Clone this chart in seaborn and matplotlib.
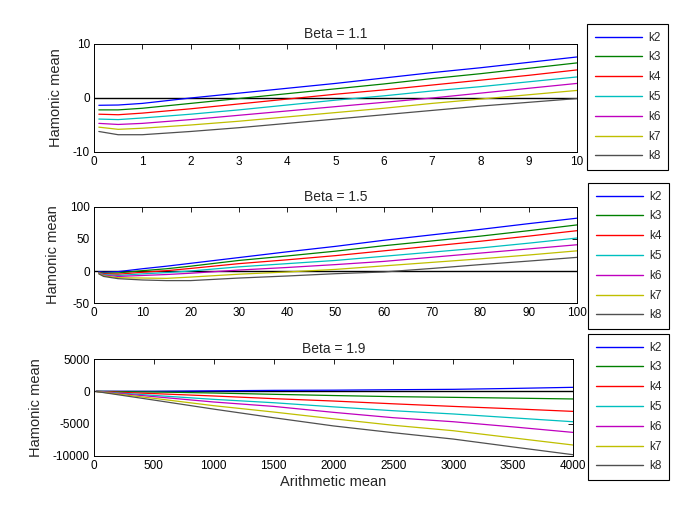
import matplotlib
matplotlib.use("Agg")
import matplotlib.pyplot as plt
import pandas as pd
import seaborn as sns


LABELS = ["k2", "k3", "k4", "k5", "k6", "k7", "k8"]
COLORS = ["#0000ff", "#008000", "#ff0000", "#00bfbf", "#bf00bf", "#bfbf00", "#505050"]

# Beta = 1.1
B11_X = [0.1, 0.5, 1, 2, 3, 4, 5, 6, 7, 8, 9, 10]
B11_K2 = [-1.35, -1.3, -1.0, 0.0, 0.9, 1.8, 2.7, 3.7, 4.7, 5.6, 6.6, 7.6]
B11_K3 = [-2.2, -2.2, -1.9, -1.0, -0.1, 0.8, 1.7, 2.6, 3.6, 4.5, 5.5, 6.5]
B11_K4 = [-3.0, -3.1, -2.8, -2.0, -1.1, -0.2, 0.7, 1.5, 2.4, 3.3, 4.2, 5.2]
B11_K5 = [-3.9, -4.0, -3.7, -3.0, -2.2, -1.3, -0.4, 0.4, 1.3, 2.1, 3.0, 3.9]
B11_K6 = [-4.7, -4.9, -4.7, -4.0, -3.2, -2.4, -1.6, -0.8, 0.0, 0.9, 1.8, 2.7]
B11_K7 = [-5.4, -5.8, -5.6, -5.0, -4.3, -3.5, -2.7, -1.9, -1.0, -0.2, 0.6, 1.4]
B11_K8 = [-6.2, -6.8, -6.8, -6.2, -5.5, -4.7, -3.9, -3.1, -2.3, -1.5, -0.8, -0.1]

# Beta = 1.5
B15_X = [1, 2, 5, 10, 15, 20, 30, 40, 50, 60, 70, 80, 90, 100]
B15_K2 = [-1, -2, -1, 3.5, 7.5, 12, 21, 30, 38.5, 48, 56.5, 65, 74, 82.5]
B15_K3 = [-2, -3.5, -3, 0.5, 3.5, 7.5, 16.5, 23.5, 31, 39.5, 47, 54.5, 63, 72]
B15_K4 = [-2.5, -4.5, -5, -2, 0.5, 4, 11.5, 17.5, 24, 31.5, 39, 46.5, 54.5, 63]
B15_K5 = [-3, -5.5, -7, -4.5, -2.5, 0, 6.5, 11.5, 16.5, 23, 29.5, 36, 43.5, 51.5]
B15_K6 = [-3.5, -6.5, -8.5, -7, -5.5, -3.5, 1.5, 5.5, 10, 15, 21.5, 28, 34.5, 41]
B15_K7 = [-4, -7.5, -10.5, -11, -11.5, -9.5, -5, -1.5, 2.5, 8, 13.5, 19, 25, 31.5]
B15_K8 = [-4.5, -8.5, -12, -14, -15, -15, -11, -7.8, -4.2, -1.5, 4, 10, 15.5, 21.3]

# Beta = 1.9
B19_X = [20, 500, 1000, 1500, 2000, 2500, 3000, 3500, 4000]
B19_K2 = [0, 0, 80, 150, 180, 250, 310, 450, 620]
B19_K3 = [-5, -100, -260, -460, -650, -820, -930, -1050, -1180]
B19_K4 = [-10, -350, -720, -1130, -1500, -1930, -2330, -2700, -3100]
B19_K5 = [-15, -630, -1240, -1760, -2400, -3000, -3500, -4100, -4700]
B19_K6 = [-20, -820, -1650, -2330, -3250, -4080, -4700, -5500, -6350]
B19_K7 = [-25, -1080, -2220, -3200, -4250, -5250, -6090, -7200, -8300]
B19_K8 = [-30, -1350, -2750, -4080, -5350, -6400, -7380, -8600, -9800]


def to_long(x, series):
    rows = []
    for name, ys in zip(LABELS, series):
        for xv, yv in zip(x, ys):
            rows.append((xv, yv, name))
    return pd.DataFrame(rows, columns=["x", "y", "k"])


def draw_panel(fig, rect, x, series, title, xlim, xticks, ylim, yticks, legend_anchor, xlabel=None):
    ax = fig.add_axes(rect)
    df = to_long(x, series)
    ax.axhline(0, color="black", lw=1.0, zorder=1)
    sns.lineplot(data=df, x="x", y="y", hue="k", palette=dict(zip(LABELS, COLORS)),
                 lw=0.9, ax=ax, sort=False, estimator=None, zorder=2)
    ax.set_xlim(*xlim)
    ax.set_ylim(*ylim)
    ax.set_xticks(xticks)
    ax.set_yticks(yticks)
    ax.tick_params(direction="in", top=True, right=True, length=3.5, width=0.6,
                   labelsize=8.5, pad=3, colors="black")
    for sp in ax.spines.values():
        sp.set_color("black")
        sp.set_linewidth(0.7)
    ax.set_title(title, fontsize=10, pad=4)
    ax.set_ylabel("Hamonic mean", fontsize=10.5, labelpad=7)
    ax.set_xlabel(xlabel if xlabel else "", fontsize=10.5, labelpad=2)

    handles, labels = ax.get_legend_handles_labels()
    leg = ax.legend(handles, labels, loc="upper left", bbox_to_anchor=legend_anchor,
                    bbox_transform=fig.transFigure, fontsize=8.5, handlelength=4.0,
                    handletextpad=0.5, labelspacing=0.66, borderpad=0.65,
                    borderaxespad=0, fancybox=False, framealpha=1, edgecolor="black")
    leg.get_frame().set_linewidth(0.8)
    for line in leg.get_lines():
        line.set_linewidth(1.0)
    return ax


sns.set_style("white")
plt.rcParams["font.family"] = ["Liberation Sans", "DejaVu Sans"]
plt.rcParams["axes.unicode_minus"] = False

W, H = 685, 505
fig = plt.figure(figsize=(W / 100, H / 100), dpi=100)


def rect(left, right, top, bottom):
    return [left / W, 1 - bottom / H, (right - left) / W, (bottom - top) / H]


draw_panel(fig, rect(94, 577, 44, 152), B11_X,
           [B11_K2, B11_K3, B11_K4, B11_K5, B11_K6, B11_K7, B11_K8],
           "Beta = 1.1", (0, 10), range(0, 11), (-10, 10), [-10, 0, 10],
           (587 / W, 1 - 24 / H))

draw_panel(fig, rect(94, 577, 207, 303), B15_X,
           [B15_K2, B15_K3, B15_K4, B15_K5, B15_K6, B15_K7, B15_K8],
           "Beta = 1.5", (0, 100), range(0, 101, 10), (-50, 100), [-50, 0, 50, 100],
           (588 / W, 1 - 183 / H))

draw_panel(fig, rect(94, 573, 359, 456), B19_X,
           [B19_K2, B19_K3, B19_K4, B19_K5, B19_K6, B19_K7, B19_K8],
           "Beta = 1.9", (0, 4000), range(0, 4001, 500), (-10000, 5000),
           [-10000, -5000, 0, 5000], (588 / W, 1 - 334 / H), xlabel="Arithmetic mean")

fig.savefig("out.png", dpi=100)
